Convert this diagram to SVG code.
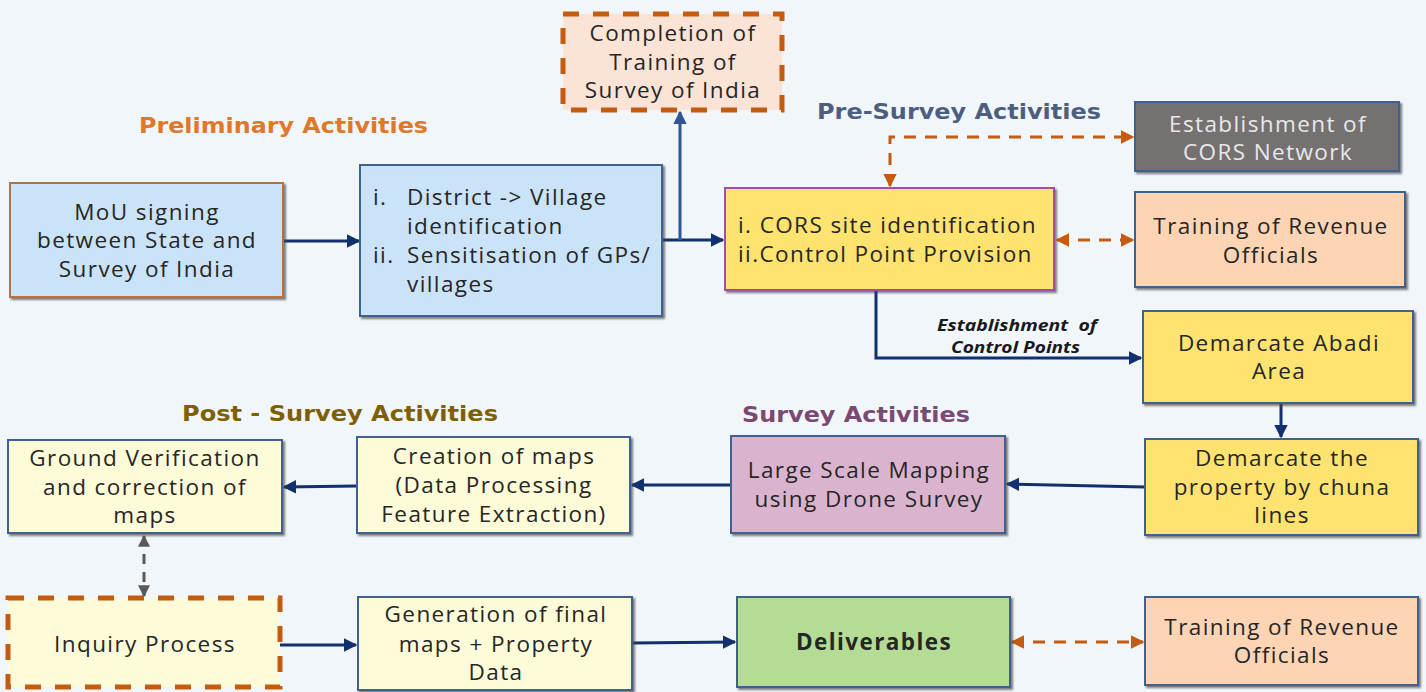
<svg xmlns="http://www.w3.org/2000/svg" width="1426" height="692" viewBox="0 0 1426 692">
<defs>
<style>
.t{font-family:"Open Sans","Liberation Sans",sans-serif;font-size:22.5px;letter-spacing:1.4px;fill:#262626;text-anchor:middle}
.tl{font-family:"Open Sans","Liberation Sans",sans-serif;font-size:22.5px;letter-spacing:1.4px;fill:#262626}
.h{font-family:"DejaVu Sans","Liberation Sans",sans-serif;font-weight:bold;font-size:21px}
.box{stroke-width:2;filter:url(#sh)}
.nav{fill:none;stroke:#12306e;stroke-width:3}
.org{fill:none;stroke:#c55a11;stroke-width:3;stroke-dasharray:12 9}
.lbl{font-family:"Open Sans","Liberation Sans",sans-serif;font-size:15.5px;font-weight:bold;font-style:italic;fill:#1a1a1a}
</style>
<filter id="sh" x="-5%" y="-5%" width="112%" height="115%">
<feDropShadow dx="2" dy="2" stdDeviation="1" flood-color="#444" flood-opacity="0.7"/>
</filter>
<marker id="an" viewBox="0 0 10 10" refX="9" refY="5" markerWidth="4.5" markerHeight="4.5" orient="auto-start-reverse"><path d="M0,0 L10,5 L0,10 z" fill="#12306e"/></marker>
<marker id="ab" viewBox="0 0 10 10" refX="9" refY="5" markerWidth="4.5" markerHeight="4.5" orient="auto-start-reverse"><path d="M0,0 L10,5 L0,10 z" fill="#2f5597"/></marker>
<marker id="ao" viewBox="0 0 10 10" refX="9" refY="5" markerWidth="4.5" markerHeight="4.5" orient="auto-start-reverse"><path d="M0,0 L10,5 L0,10 z" fill="#c55a11"/></marker>
<marker id="ag" viewBox="0 0 10 10" refX="9" refY="5" markerWidth="4" markerHeight="4" orient="auto-start-reverse"><path d="M0,0 L10,5 L0,10 z" fill="#595959"/></marker>
</defs>
<rect width="1426" height="692" fill="#f1f6fb"/>

<g id="headers">
<text class="h" x="139" y="133" fill="#e0782c" textLength="289" lengthAdjust="spacingAndGlyphs">Preliminary Activities</text>
<text class="h" x="817" y="119" fill="#4d5f80" textLength="284" lengthAdjust="spacingAndGlyphs">Pre-Survey Activities</text>
<text class="h" x="182" y="421" fill="#7f6000" textLength="316" lengthAdjust="spacingAndGlyphs">Post - Survey Activities</text>
<text class="h" x="742" y="422" fill="#7a4a72" textLength="228" lengthAdjust="spacingAndGlyphs">Survey Activities</text>
</g>

<g id="connectors">
<line class="nav" x1="283" y1="241" x2="359" y2="241" marker-end="url(#an)"/>
<line class="nav" x1="662" y1="240" x2="723" y2="240" marker-end="url(#an)"/>
<line x1="680" y1="240" x2="680" y2="112" fill="none" stroke="#2f5597" stroke-width="3" marker-end="url(#ab)"/>
<path class="org" d="M890,186 V137 H1133" marker-start="url(#ao)" marker-end="url(#ao)"/>
<line class="org" x1="1057" y1="240" x2="1133" y2="240" marker-start="url(#ao)" marker-end="url(#ao)"/>
<path class="nav" d="M876,290 V358 H1141" stroke-width="2.5" marker-end="url(#an)"/>
<line class="nav" x1="1281" y1="404" x2="1281" y2="437" marker-end="url(#an)"/>
<line class="nav" x1="1145" y1="487" x2="1007" y2="484" marker-end="url(#an)"/>
<line class="nav" x1="731" y1="485" x2="632" y2="485" marker-end="url(#an)"/>
<line class="nav" x1="357" y1="486" x2="284" y2="487" marker-end="url(#an)"/>
<line x1="144" y1="536" x2="144" y2="596" fill="none" stroke="#595959" stroke-width="3" stroke-dasharray="10 8" marker-start="url(#ag)" marker-end="url(#ag)"/>
<line class="nav" x1="280" y1="645" x2="356" y2="645" marker-end="url(#an)"/>
<line class="nav" x1="632" y1="643" x2="735" y2="642" marker-end="url(#an)"/>
<line class="org" x1="1012" y1="642" x2="1143" y2="642" marker-start="url(#ao)" marker-end="url(#ao)"/>
<text class="lbl" x="937" y="331" textLength="160" lengthAdjust="spacingAndGlyphs" xml:space="preserve">Establishment  of</text>
<text class="lbl" x="951" y="353" textLength="129" lengthAdjust="spacingAndGlyphs">Control Points</text>
</g>

<g id="mou">
<rect class="box" x="10" y="183" width="273" height="114" fill="#cbe3f9" stroke="#b5733f"/>
<text class="t" x="147" y="220">MoU signing</text>
<text class="t" x="147" y="248">between State and</text>
<text class="t" x="147" y="277">Survey of India</text>
</g>

<g id="district">
<rect class="box" x="360" y="165" width="302" height="151" fill="#cbe3f9" stroke="#41608f"/>
<text class="tl" x="373" y="205">i.</text>
<text class="tl" x="407" y="205">District -&gt; Village</text>
<text class="tl" x="407" y="234">identification</text>
<text class="tl" x="373" y="263">ii.</text>
<text class="tl" x="407" y="263">Sensitisation of GPs/</text>
<text class="tl" x="407" y="292">villages</text>
</g>

<g id="completion">
<rect x="563" y="14" width="219" height="96" fill="#fbe4d6" stroke="#c55a11" stroke-width="5" stroke-dasharray="16 14"/>
<text class="t" x="673" y="41">Completion of</text>
<text class="t" x="673" y="70">Training of</text>
<text class="t" x="673" y="98">Survey of India</text>
</g>

<g id="cors">
<rect class="box" x="725" y="188" width="329" height="102" fill="#ffe36f" stroke="#a64ca6"/>
<text class="tl" x="738" y="233">i. CORS site identification</text>
<text class="tl" x="738" y="262">ii.Control Point Provision</text>
</g>

<g id="network">
<rect class="box" x="1135" y="102" width="264" height="69" fill="#767171" stroke="#41608f"/>
<text class="t" x="1268" y="132" style="fill:#e8e8e8">Establishment of</text>
<text class="t" x="1268" y="160" style="fill:#e8e8e8">CORS Network</text>
</g>

<g id="training1">
<rect class="box" x="1135" y="192" width="270" height="95" fill="#fdd5b5" stroke="#41608f"/>
<text class="t" x="1271" y="234">Training of Revenue</text>
<text class="t" x="1271" y="263">Officials</text>
</g>

<g id="abadi">
<rect class="box" x="1143" y="311" width="270" height="92" fill="#ffe36f" stroke="#41608f"/>
<text class="t" x="1279" y="351">Demarcate Abadi</text>
<text class="t" x="1279" y="379">Area</text>
</g>

<g id="chuna">
<rect class="box" x="1145" y="439" width="273" height="96" fill="#ffe36f" stroke="#41608f"/>
<text class="t" x="1282" y="466">Demarcate the</text>
<text class="t" x="1282" y="495">property by chuna</text>
<text class="t" x="1282" y="523">lines</text>
</g>

<g id="drone">
<rect class="box" x="731" y="436" width="274" height="97" fill="#dab4cf" stroke="#41608f"/>
<text class="t" x="869" y="478">Large Scale Mapping</text>
<text class="t" x="869" y="507">using Drone Survey</text>
</g>

<g id="creation">
<rect class="box" x="357" y="437" width="273" height="96" fill="#fefbd9" stroke="#41608f"/>
<text class="t" x="494" y="464">Creation of maps</text>
<text class="t" x="494" y="493">(Data Processing</text>
<text class="t" x="494" y="522">Feature Extraction)</text>
</g>

<g id="ground">
<rect class="box" x="8" y="440" width="274" height="93" fill="#fefbd9" stroke="#41608f"/>
<text class="t" x="145" y="466">Ground Verification</text>
<text class="t" x="145" y="495">and correction of</text>
<text class="t" x="145" y="523">maps</text>
</g>

<g id="inquiry">
<rect x="8" y="598" width="272" height="89" fill="#fefbd9" stroke="#c55a11" stroke-width="5" stroke-dasharray="16 14"/>
<text class="t" x="145" y="652">Inquiry Process</text>
</g>

<g id="generation">
<rect class="box" x="358" y="597" width="274" height="93" fill="#fefbd9" stroke="#41608f"/>
<text class="t" x="496" y="622">Generation of final</text>
<text class="t" x="496" y="652">maps + Property</text>
<text class="t" x="496" y="680">Data</text>
</g>

<g id="deliverables">
<rect class="box" x="737" y="597" width="273" height="90" fill="#b4dc95" stroke="#41608f"/>
<text class="t" x="874" y="650" font-weight="bold">Deliverables</text>
</g>

<g id="training2">
<rect class="box" x="1145" y="597" width="273" height="88" fill="#fdd5b5" stroke="#41608f"/>
<text class="t" x="1282" y="635">Training of Revenue</text>
<text class="t" x="1282" y="663">Officials</text>
</g>
</svg>
